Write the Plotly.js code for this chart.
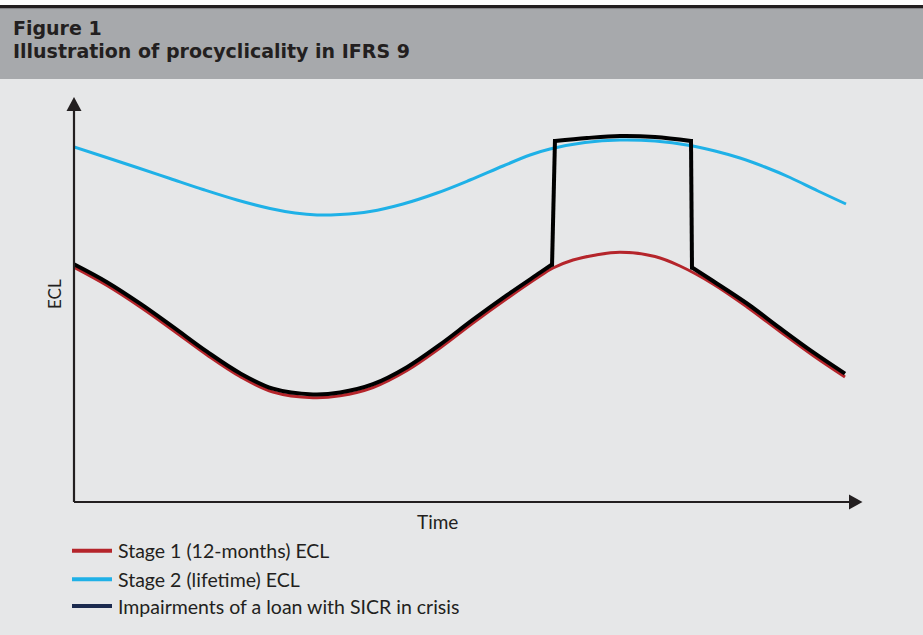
<!DOCTYPE html>
<html>
<head>
<meta charset="utf-8">
<script src="https://cdn.plot.ly/plotly-3.0.1.min.js"></script>
<style>html,body{margin:0;padding:0;background:#e6e7e8;}#chart{width:923px;height:635px;}</style>
</head>
<body>
<div id="chart"></div>
<script>
// Values (arbitrary units: time along x, ECL along y)
const stage1Time = [0,33,67,100,133,166,199,239,266,299,333,366,399,433,466,479,499,522,546,581,606,639,673,706,739,771];
const stage1ECL  = [234.7,216.5,194.5,171,147,125.5,110,104.3,106.2,114.5,131.5,154,179,203.5,226,234,242,247,249.7,245.5,236,218,195,170.5,146.5,125];

const stage2Time = [0,31,63,96,129,163,196,221,243,266,296,329,363,396,429,456,476,511,546,581,616,641,666,691,716,744,772];
const stage2ECL  = [355,345,334.5,323.5,312.5,302,293.5,289,287,287.5,290.5,298,309,322,336,347,353,359.5,362,361,356.5,351,344,335,324.5,311,298];

// Impairments of a loan with SICR in crisis: pre-crisis path, jump up, lifetime path, jump down, post-crisis path
// (null separates the pieces of the path)
const sicrTime = [0,33,67,100,133,166,199,239,266,299,333,366,399,433,466,478, null, 478,481, null, 481,513,546,581,617, null, 617,618, null, 618,639,673,706,739,771];
const sicrECL  = [237.7,219.8,197.8,174.3,150.3,128.8,113.3,107.6,109.5,117.8,134.8,157.3,182.3,206.8,229.3,237.5, null, 235.5,363, null, 361,364,366,365,361, null, 363,232.5, null, 234.5,221,198.5,173.8,149.8,128.3];

const seriesNames = ["Stage 1 (12-months) ECL", "Stage 2 (lifetime) ECL", "Impairments of a loan with SICR in crisis"];
const legendColors = ["#b5252b", "#1fb1e7", "#1b2a4e"];
const titleLine1 = "Figure 1";
const titleLine2 = "Illustration of procyclicality in IFRS 9";
const xTitle = "Time";
const yTitle = "ECL";

const FONT = "Lato, 'Open Sans', sans-serif";
const TFONT = "'DejaVu Sans', sans-serif";
const INK = "#231f20";
const W = 788, H = 405; // plot area px
const py = p => (502 - p) / H;       // page y px -> paper
const px = p => (p - 74) / W;        // page x px -> paper

const traces = [
  {x: stage2Time, y: stage2ECL, mode: "lines", line: {color: "#1fb1e7", width: 3, shape: "spline"}, name: seriesNames[1], hoverinfo: "skip"},
  {x: stage1Time, y: stage1ECL, mode: "lines", line: {color: "#b5252b", width: 3, shape: "spline"}, name: seriesNames[0], hoverinfo: "skip"},
  {x: sicrTime, y: sicrECL, mode: "lines", connectgaps: false, line: {color: "#000000", width: 4, shape: "spline"}, name: seriesNames[2], hoverinfo: "skip"}
];

const shapes = [
  {type: "rect", xref: "paper", yref: "paper", x0: px(-5), x1: px(930), y0: py(5), y1: py(-5), fillcolor: "#ffffff", line: {width: 0}},
  {type: "rect", xref: "paper", yref: "paper", x0: px(-5), x1: px(930), y0: py(79), y1: py(8), fillcolor: "#a7a9ac", line: {width: 0}},
  {type: "rect", xref: "paper", yref: "paper", x0: px(-5), x1: px(930), y0: py(8.3), y1: py(5), fillcolor: INK, line: {width: 0}},
  // axes with arrows
  {type: "line", xref: "paper", yref: "paper", x0: 0, x1: 0, y0: 0, y1: py(110), line: {color: INK, width: 2.2}},
  {type: "path", xref: "paper", yref: "paper", path: `M ${px(66.5)} ${py(111)} L ${px(74)} ${py(97)} L ${px(81.5)} ${py(111)} Z`, fillcolor: INK, line: {width: 0}},
  {type: "line", xref: "paper", yref: "paper", x0: 0, x1: px(850), y0: 0, y1: 0, line: {color: INK, width: 2.2}},
  {type: "path", xref: "paper", yref: "paper", path: `M ${px(849)} ${py(494.5)} L ${px(862.5)} ${py(502)} L ${px(849)} ${py(509.5)} Z`, fillcolor: INK, line: {width: 0}}
];

const legendRows = [550.7, 579.3, 606];
const annotations = [
  {text: "<b>" + titleLine1 + "</b>", xref: "paper", yref: "paper", x: px(12), y: py(28.3), xanchor: "left", yanchor: "middle", borderpad: 0, showarrow: false, font: {family: TFONT, size: 19, color: INK}},
  {text: "<b>" + titleLine2 + "</b>", xref: "paper", yref: "paper", x: px(12), y: py(50.9), xanchor: "left", yanchor: "middle", borderpad: 0, showarrow: false, font: {family: TFONT, size: 19, color: INK}},
  {text: yTitle, xref: "paper", yref: "paper", x: px(54), y: py(294), xanchor: "center", yanchor: "middle", textangle: -90, showarrow: false, font: {family: FONT, size: 17, color: INK}},
  {text: xTitle, xref: "paper", yref: "paper", x: px(437), y: py(521.5), xanchor: "center", yanchor: "middle", showarrow: false, font: {family: FONT, size: 19, color: INK}}
];
seriesNames.forEach((n, i) => {
  shapes.push({type: "line", xref: "paper", yref: "paper", x0: px(72), x1: px(112), y0: py(legendRows[i]), y1: py(legendRows[i]), line: {color: legendColors[i], width: 4}});
  annotations.push({text: n, xref: "paper", yref: "paper", x: px(116), y: py(legendRows[i]), xanchor: "left", yanchor: "middle", showarrow: false, font: {family: FONT, size: 19.5, color: INK}});
});

const layout = {
  width: 923, height: 635,
  margin: {l: 74, r: 61, t: 97, b: 133, pad: 0},
  paper_bgcolor: "#e6e7e8", plot_bgcolor: "#e6e7e8",
  showlegend: false,
  xaxis: {range: [0, W], showgrid: false, zeroline: false, showticklabels: false, showline: false, ticks: "", fixedrange: true},
  yaxis: {range: [0, H], showgrid: false, zeroline: false, showticklabels: false, showline: false, ticks: "", fixedrange: true},
  shapes: shapes,
  annotations: annotations
};

Plotly.newPlot("chart", traces, layout, {staticPlot: true, displayModeBar: false});
</script>
</body>
</html>
